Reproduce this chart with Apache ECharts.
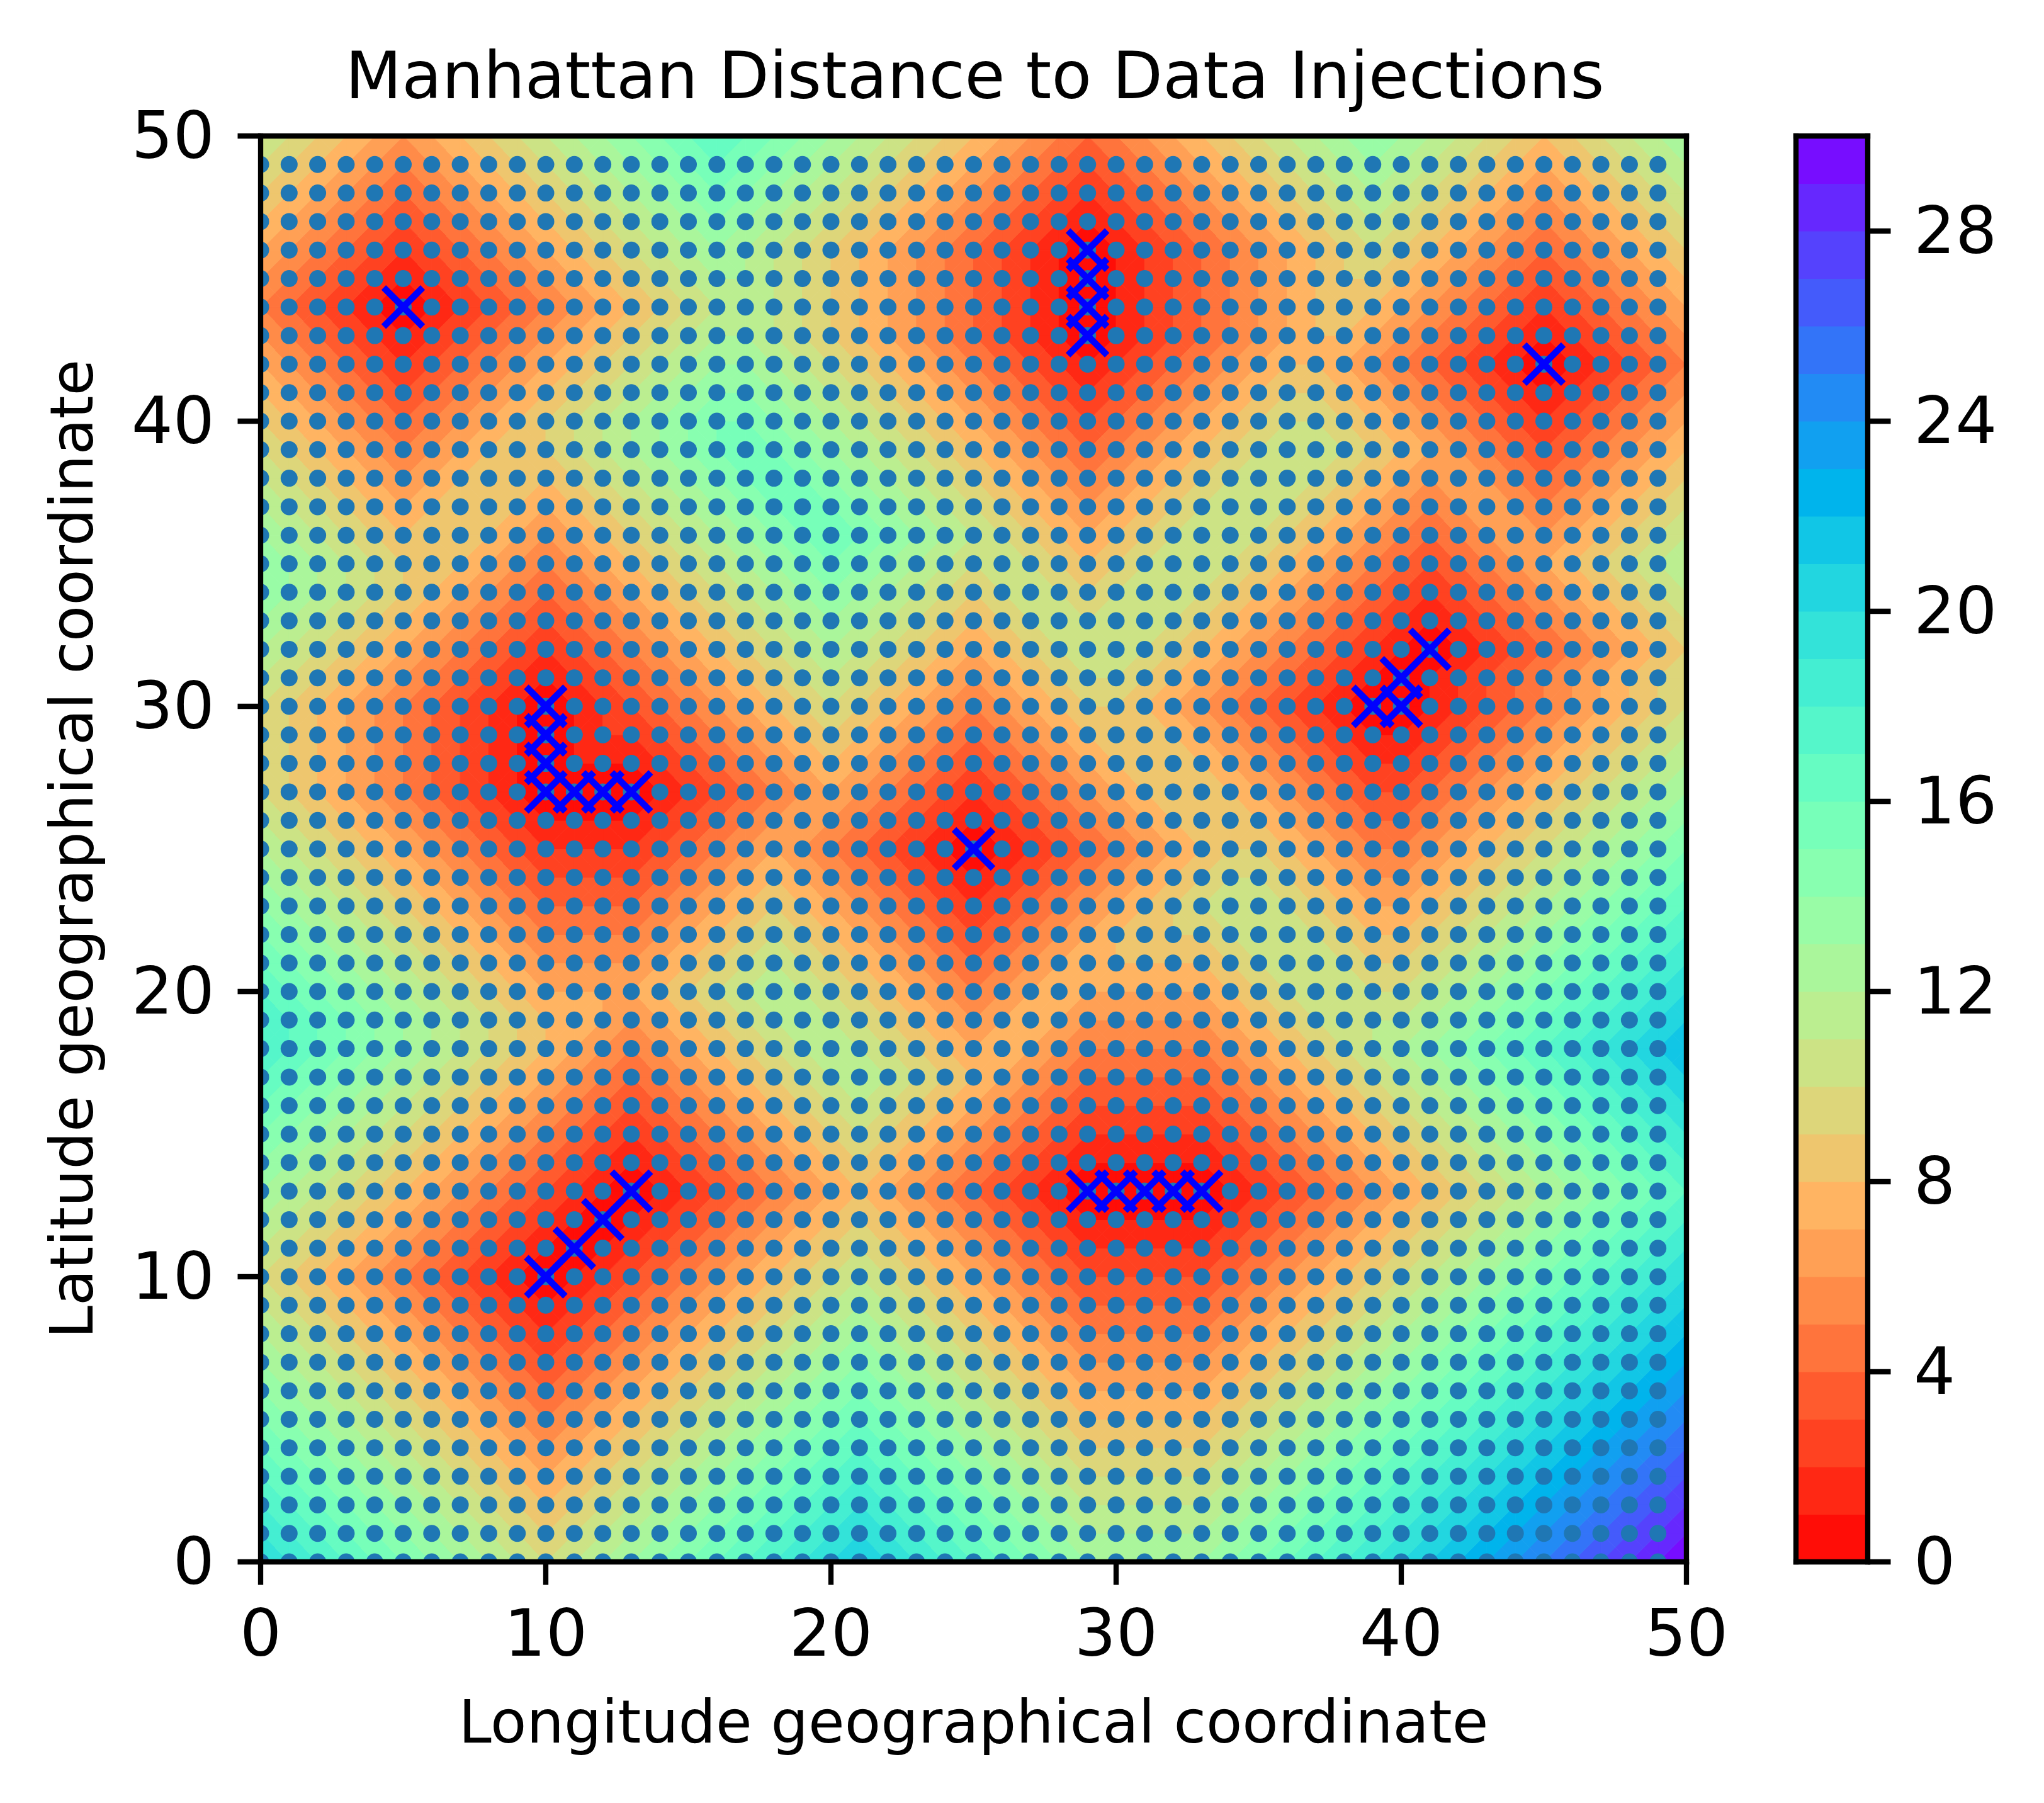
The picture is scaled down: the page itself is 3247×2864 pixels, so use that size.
<!DOCTYPE html>
<html>
<head>
<meta charset="utf-8">
<title>Manhattan Distance to Data Injections</title>
<script src="https://cdn.jsdelivr.net/npm/echarts@6/dist/echarts.min.js"></script>
<style>
  html, body { margin: 0; padding: 0; background: #fff; }
  #chart { width: 3247px; height: 2864px; }
</style>
</head>
<body>
<div id="chart"></div>
<script>
// 标题和轴标签
const chartTitle = 'Manhattan Distance to Data Injections';
const xAxisName = 'Longitude geographical coordinate';
const yAxisName = 'Latitude geographical coordinate';
const colorbarTicks = [0, 4, 8, 12, 16, 20, 24, 28];
const colorbarLevels = [0, 1, 2, 3, 4, 5, 6, 7, 8, 9, 10, 11, 12, 13, 14, 15, 16, 17, 18, 19, 20, 21, 22, 23, 24, 25, 26, 27, 28, 29];

// 蓝色小点的经纬度
const dotLons = [0, 1, 2, 3, 4, 5, 6, 7, 8, 9, 10, 11, 12, 13, 14, 15, 16, 17, 18, 19, 20, 21, 22, 23, 24, 25, 26, 27, 28, 29, 30, 31, 32, 33, 34, 35, 36, 37, 38, 39, 40, 41, 42, 43, 44, 45, 46, 47, 48, 49];
const dotLats = [0, 1, 2, 3, 4, 5, 6, 7, 8, 9, 10, 11, 12, 13, 14, 15, 16, 17, 18, 19, 20, 21, 22, 23, 24, 25, 26, 27, 28, 29, 30, 31, 32, 33, 34, 35, 36, 37, 38, 39, 40, 41, 42, 43, 44, 45, 46, 47, 48, 49];

// 数据注入点 (x标记)
const injections = [
  [5, 44], [29, 43], [29, 44], [29, 45], [29, 46], [45, 42],
  [10, 27], [10, 28], [10, 29], [10, 30], [11, 27], [12, 27], [13, 27],
  [25, 25], [39, 30], [40, 30], [40, 31], [41, 32],
  [10, 10], [11, 11], [12, 12], [13, 13],
  [29, 13], [30, 13], [31, 13], [32, 13], [33, 13]
];

// 等高线网格的值, 第一行是纬度0, 每行经度0到50
const distanceRows = [
  [20,19,18,17,16,15,14,13,12,11,10,11,12,13,14,15,16,17,18,19,20,21,20,19,18,17,16,15,14,13,13,13,13,13,14,15,16,17,18,19,20,21,22,23,24,25,26,27,28,29,30],
  [19,18,17,16,15,14,13,12,11,10,9,10,11,12,13,14,15,16,17,18,19,20,19,18,17,16,15,14,13,12,12,12,12,12,13,14,15,16,17,18,19,20,21,22,23,24,25,26,27,28,29],
  [18,17,16,15,14,13,12,11,10,9,8,9,10,11,12,13,14,15,16,17,18,19,18,17,16,15,14,13,12,11,11,11,11,11,12,13,14,15,16,17,18,19,20,21,22,23,24,25,26,27,28],
  [17,16,15,14,13,12,11,10,9,8,7,8,9,10,11,12,13,14,15,16,17,18,17,16,15,14,13,12,11,10,10,10,10,10,11,12,13,14,15,16,17,18,19,20,21,22,23,24,25,26,27],
  [16,15,14,13,12,11,10,9,8,7,6,7,8,9,10,11,12,13,14,15,16,17,16,15,14,13,12,11,10,9,9,9,9,9,10,11,12,13,14,15,16,17,18,19,20,21,22,23,24,25,26],
  [15,14,13,12,11,10,9,8,7,6,5,6,7,8,9,10,11,12,13,14,15,16,15,14,13,12,11,10,9,8,8,8,8,8,9,10,11,12,13,14,15,16,17,18,19,20,21,22,23,24,25],
  [14,13,12,11,10,9,8,7,6,5,4,5,6,7,8,9,10,11,12,13,14,15,14,13,12,11,10,9,8,7,7,7,7,7,8,9,10,11,12,13,14,15,16,17,18,19,20,21,22,23,24],
  [13,12,11,10,9,8,7,6,5,4,3,4,5,6,7,8,9,10,11,12,13,14,13,12,11,10,9,8,7,6,6,6,6,6,7,8,9,10,11,12,13,14,15,16,17,18,19,20,21,22,23],
  [12,11,10,9,8,7,6,5,4,3,2,3,4,5,6,7,8,9,10,11,12,13,12,11,10,9,8,7,6,5,5,5,5,5,6,7,8,9,10,11,12,13,14,15,16,17,18,19,20,21,22],
  [11,10,9,8,7,6,5,4,3,2,1,2,3,4,5,6,7,8,9,10,11,12,11,10,9,8,7,6,5,4,4,4,4,4,5,6,7,8,9,10,11,12,13,14,15,16,17,18,19,20,21],
  [10,9,8,7,6,5,4,3,2,1,0,1,2,3,4,5,6,7,8,9,10,11,10,9,8,7,6,5,4,3,3,3,3,3,4,5,6,7,8,9,10,11,12,13,14,15,16,17,18,19,20],
  [11,10,9,8,7,6,5,4,3,2,1,0,1,2,3,4,5,6,7,8,9,10,9,8,7,6,5,4,3,2,2,2,2,2,3,4,5,6,7,8,9,10,11,12,13,14,15,16,17,18,19],
  [12,11,10,9,8,7,6,5,4,3,2,1,0,1,2,3,4,5,6,7,8,9,8,7,6,5,4,3,2,1,1,1,1,1,2,3,4,5,6,7,8,9,10,11,12,13,14,15,16,17,18],
  [13,12,11,10,9,8,7,6,5,4,3,2,1,0,1,2,3,4,5,6,7,8,7,6,5,4,3,2,1,0,0,0,0,0,1,2,3,4,5,6,7,8,9,10,11,12,13,14,15,16,17],
  [14,13,12,11,10,9,8,7,6,5,4,3,2,1,2,3,4,5,6,7,8,9,8,7,6,5,4,3,2,1,1,1,1,1,2,3,4,5,6,7,8,9,10,11,12,13,14,15,16,17,18],
  [15,14,13,12,11,10,9,8,7,6,5,4,3,2,3,4,5,6,7,8,9,10,9,8,7,6,5,4,3,2,2,2,2,2,3,4,5,6,7,8,9,10,11,12,13,14,15,16,17,18,19],
  [16,15,14,13,12,11,10,9,8,7,6,5,4,3,4,5,6,7,8,9,10,11,10,9,8,7,6,5,4,3,3,3,3,3,4,5,6,7,8,9,10,11,12,13,14,15,16,17,18,19,20],
  [17,16,15,14,13,12,11,10,9,8,7,6,5,4,5,6,7,8,9,10,11,12,11,10,9,8,7,6,5,4,4,4,4,4,5,6,7,8,9,10,11,12,13,14,15,16,17,18,19,20,21],
  [18,17,16,15,14,13,12,11,10,9,8,7,6,5,6,7,8,9,10,11,12,11,10,9,8,7,8,7,6,5,5,5,5,5,6,7,8,9,10,11,12,13,14,15,16,17,18,19,20,21,22],
  [18,17,16,15,14,13,12,11,10,9,8,8,7,6,7,8,9,10,11,12,11,10,9,8,7,6,7,8,7,6,6,6,6,6,7,8,9,10,11,11,11,12,13,14,15,16,17,18,19,20,21],
  [17,16,15,14,13,12,11,10,9,8,7,7,7,7,8,9,10,11,12,11,10,9,8,7,6,5,6,7,8,7,7,7,7,7,8,9,10,11,11,10,10,11,12,13,14,15,16,17,18,19,20],
  [16,15,14,13,12,11,10,9,8,7,6,6,6,6,7,8,9,10,11,10,9,8,7,6,5,4,5,6,7,8,8,8,8,8,9,10,11,11,10,9,9,10,11,12,13,14,15,16,17,18,19],
  [15,14,13,12,11,10,9,8,7,6,5,5,5,5,6,7,8,9,10,9,8,7,6,5,4,3,4,5,6,7,8,9,9,9,10,11,11,10,9,8,8,9,10,11,12,13,14,15,16,17,18],
  [14,13,12,11,10,9,8,7,6,5,4,4,4,4,5,6,7,8,9,8,7,6,5,4,3,2,3,4,5,6,7,8,9,10,11,11,10,9,8,7,7,8,9,10,11,12,13,14,15,16,17],
  [13,12,11,10,9,8,7,6,5,4,3,3,3,3,4,5,6,7,8,7,6,5,4,3,2,1,2,3,4,5,6,7,8,9,10,10,9,8,7,6,6,7,8,9,10,11,12,13,14,15,16],
  [12,11,10,9,8,7,6,5,4,3,2,2,2,2,3,4,5,6,7,6,5,4,3,2,1,0,1,2,3,4,5,6,7,8,9,9,8,7,6,5,5,6,7,8,9,10,11,12,13,14,15],
  [11,10,9,8,7,6,5,4,3,2,1,1,1,1,2,3,4,5,6,7,6,5,4,3,2,1,2,3,4,5,6,7,8,9,9,8,7,6,5,4,4,5,6,7,8,9,10,11,12,13,14],
  [10,9,8,7,6,5,4,3,2,1,0,0,0,0,1,2,3,4,5,6,7,6,5,4,3,2,3,4,5,6,7,8,9,9,8,7,6,5,4,3,3,4,5,6,7,8,9,10,11,12,13],
  [10,9,8,7,6,5,4,3,2,1,0,1,1,1,2,3,4,5,6,7,8,7,6,5,4,3,4,5,6,7,8,9,9,8,7,6,5,4,3,2,2,3,4,5,6,7,8,9,10,11,12],
  [10,9,8,7,6,5,4,3,2,1,0,1,2,2,3,4,5,6,7,8,9,8,7,6,5,4,5,6,7,8,9,9,8,7,6,5,4,3,2,1,1,2,3,4,5,6,7,8,9,10,11],
  [10,9,8,7,6,5,4,3,2,1,0,1,2,3,4,5,6,7,8,9,10,9,8,7,6,5,6,7,8,9,9,8,7,6,5,4,3,2,1,0,0,1,2,3,4,5,6,7,8,9,10],
  [11,10,9,8,7,6,5,4,3,2,1,2,3,4,5,6,7,8,9,10,11,10,9,8,7,6,7,8,9,10,10,9,8,7,6,5,4,3,2,1,0,1,2,3,4,5,6,7,8,9,10],
  [12,11,10,9,8,7,6,5,4,3,2,3,4,5,6,7,8,9,10,11,12,11,10,9,8,7,8,9,10,11,11,10,9,8,7,6,5,4,3,2,1,0,1,2,3,4,5,6,7,8,9],
  [13,12,11,10,9,8,7,6,5,4,3,4,5,6,7,8,9,10,11,12,13,12,11,10,9,8,9,10,11,10,11,11,10,9,8,7,6,5,4,3,2,1,2,3,4,5,6,7,8,9,10],
  [14,13,12,11,10,9,8,7,6,5,4,5,6,7,8,9,10,11,12,13,14,13,12,11,10,9,10,11,10,9,10,11,11,10,9,8,7,6,5,4,3,2,3,4,5,6,7,8,9,10,11],
  [14,13,12,11,10,9,9,8,7,6,5,6,7,8,9,10,11,12,13,14,15,14,13,12,11,10,11,10,9,8,9,10,11,11,10,9,8,7,6,5,4,3,4,5,6,7,8,9,10,11,12],
  [13,12,11,10,9,8,9,9,8,7,6,7,8,9,10,11,12,13,14,15,16,15,14,13,12,11,10,9,8,7,8,9,10,11,11,10,9,8,7,6,5,4,5,6,7,6,7,8,9,10,11],
  [12,11,10,9,8,7,8,9,9,8,7,8,9,10,11,12,13,14,15,16,15,14,13,12,11,10,9,8,7,6,7,8,9,10,11,11,10,9,8,7,6,5,6,7,6,5,6,7,8,9,10],
  [11,10,9,8,7,6,7,8,9,9,8,9,10,11,12,13,14,15,16,15,14,13,12,11,10,9,8,7,6,5,6,7,8,9,10,11,11,10,9,8,7,6,7,6,5,4,5,6,7,8,9],
  [10,9,8,7,6,5,6,7,8,9,9,10,11,12,13,14,15,16,15,14,13,12,11,10,9,8,7,6,5,4,5,6,7,8,9,10,11,11,10,9,8,7,6,5,4,3,4,5,6,7,8],
  [9,8,7,6,5,4,5,6,7,8,9,10,11,12,13,14,15,15,14,13,12,11,10,9,8,7,6,5,4,3,4,5,6,7,8,9,10,10,9,8,7,6,5,4,3,2,3,4,5,6,7],
  [8,7,6,5,4,3,4,5,6,7,8,9,10,11,12,13,14,14,13,12,11,10,9,8,7,6,5,4,3,2,3,4,5,6,7,8,9,9,8,7,6,5,4,3,2,1,2,3,4,5,6],
  [7,6,5,4,3,2,3,4,5,6,7,8,9,10,11,12,13,13,12,11,10,9,8,7,6,5,4,3,2,1,2,3,4,5,6,7,8,8,7,6,5,4,3,2,1,0,1,2,3,4,5],
  [6,5,4,3,2,1,2,3,4,5,6,7,8,9,10,11,12,12,11,10,9,8,7,6,5,4,3,2,1,0,1,2,3,4,5,6,7,8,8,7,6,5,4,3,2,1,2,3,4,5,6],
  [5,4,3,2,1,0,1,2,3,4,5,6,7,8,9,10,11,12,11,10,9,8,7,6,5,4,3,2,1,0,1,2,3,4,5,6,7,8,9,8,7,6,5,4,3,2,3,4,5,6,7],
  [6,5,4,3,2,1,2,3,4,5,6,7,8,9,10,11,12,12,11,10,9,8,7,6,5,4,3,2,1,0,1,2,3,4,5,6,7,8,9,9,8,7,6,5,4,3,4,5,6,7,8],
  [7,6,5,4,3,2,3,4,5,6,7,8,9,10,11,12,13,12,11,10,9,8,7,6,5,4,3,2,1,0,1,2,3,4,5,6,7,8,9,10,9,8,7,6,5,4,5,6,7,8,9],
  [8,7,6,5,4,3,4,5,6,7,8,9,10,11,12,13,14,13,12,11,10,9,8,7,6,5,4,3,2,1,2,3,4,5,6,7,8,9,10,11,10,9,8,7,6,5,6,7,8,9,10],
  [9,8,7,6,5,4,5,6,7,8,9,10,11,12,13,14,15,14,13,12,11,10,9,8,7,6,5,4,3,2,3,4,5,6,7,8,9,10,11,12,11,10,9,8,7,6,7,8,9,10,11],
  [10,9,8,7,6,5,6,7,8,9,10,11,12,13,14,15,16,15,14,13,12,11,10,9,8,7,6,5,4,3,4,5,6,7,8,9,10,11,12,13,12,11,10,9,8,7,8,9,10,11,12],
  [11,10,9,8,7,6,7,8,9,10,11,12,13,14,15,16,17,16,15,14,13,12,11,10,9,8,7,6,5,4,5,6,7,8,9,10,11,12,13,14,13,12,11,10,9,8,9,10,11,12,13]
];

const fontFamily = 'DejaVu Sans';
const plotLeft = 414, plotTop = 216, plotSize = 2265;
const barLeft = 2853, barWidth = 114;
const spineWidth = 8.33;

// rainbow_r 色带, 30 段取中点
function rainbowR(t) {
  const x = 1 - t;
  const r = Math.min(1, Math.abs(2 * x - 0.5));
  const g = Math.sin(Math.PI * x);
  const b = Math.cos(Math.PI * x / 2);
  return 'rgb(' + [r, g, b].map(c => Math.round(c * 255)).join(',') + ')';
}
const bandColors = colorbarLevels.map(k => rainbowR((k + 0.5) / colorbarLevels.length));

// 多边形按等值线裁剪 (点为 [x, y, v])
function clipPoly(poly, level, above) {
  const out = [];
  for (let i = 0; i < poly.length; i++) {
    const a = poly[i], b = poly[(i + 1) % poly.length];
    const inA = above ? a[2] >= level : a[2] <= level;
    const inB = above ? b[2] >= level : b[2] <= level;
    if (inA) out.push(a);
    if (inA !== inB) {
      const t = (level - a[2]) / (b[2] - a[2]);
      out.push([a[0] + (b[0] - a[0]) * t, a[1] + (b[1] - a[1]) * t, level]);
    }
  }
  return out;
}

// 每个网格单元分成四个三角形, 再切成色带
function renderCell(params, api) {
  const x = api.value(0), y = api.value(1);
  const v00 = distanceRows[y][x], v10 = distanceRows[y][x + 1];
  const v11 = distanceRows[y + 1][x + 1], v01 = distanceRows[y + 1][x];
  const corners = [[x, y, v00], [x + 1, y, v10], [x + 1, y + 1, v11], [x, y + 1, v01]];
  const mid = [x + 0.5, y + 0.5, (v00 + v10 + v11 + v01) / 4];
  const children = [];
  for (let i = 0; i < 4; i++) {
    const tri = [corners[i], corners[(i + 1) % 4], mid];
    const vs = tri.map(p => p[2]);
    const lo = Math.floor(Math.min(...vs));
    const hi = Math.max(lo + 1, Math.ceil(Math.max(...vs)));
    for (let k = lo; k < hi; k++) {
      const poly = clipPoly(clipPoly(tri, k, true), k + 1, false);
      if (poly.length < 3) continue;
      const color = bandColors[Math.min(k, bandColors.length - 1)];
      children.push({
        type: 'polygon',
        shape: { points: poly.map(p => api.coord([p[0], p[1]])) },
        style: { fill: color, stroke: color, lineWidth: 1 },
        silent: true
      });
    }
  }
  return { type: 'group', children: children };
}

// 小圆点, 用 custom 才能被坐标系裁掉一半
function renderDot(params, api) {
  const c = api.coord([api.value(0), api.value(1)]);
  return {
    type: 'circle',
    shape: { cx: c[0], cy: c[1], r: 13.5 },
    style: { fill: '#1f77b4' }
  };
}

// x 标记
function renderCross(params, api) {
  const c = api.coord([api.value(0), api.value(1)]);
  const r = 31;
  const style = { stroke: '#0000ff', lineWidth: 10.4, fill: null };
  return {
    type: 'group',
    children: [
      { type: 'line', shape: { x1: c[0] - r, y1: c[1] - r, x2: c[0] + r, y2: c[1] + r }, style: style },
      { type: 'line', shape: { x1: c[0] - r, y1: c[1] + r, x2: c[0] + r, y2: c[1] - r }, style: style }
    ]
  };
}

// 色条
function renderBand(params, api) {
  const k = api.value(0);
  const a = api.coord([0, k + 1]);
  const b = api.coord([1, k]);
  return {
    type: 'rect',
    shape: { x: a[0], y: a[1], width: b[0] - a[0], height: b[1] - a[1] },
    style: { fill: bandColors[k], stroke: bandColors[k], lineWidth: 1 }
  };
}

const cells = [];
for (let y = 0; y < distanceRows.length - 1; y++) {
  for (let x = 0; x < distanceRows[y].length - 1; x++) cells.push([x, y]);
}
const dots = [];
dotLats.forEach(lat => dotLons.forEach(lon => dots.push([lon, lat])));

const lineStyle = { color: '#000', width: spineWidth, cap: 'square' };
const labelStyle = { color: '#000', fontFamily: fontFamily, fontSize: 104 };
const nameStyle = { color: '#000', fontFamily: fontFamily, fontSize: 93.75 };

const option = {
  animation: false,
  backgroundColor: '#fff',
  title: {
    text: chartTitle,
    left: plotLeft + plotSize / 2 - 3,
    top: 72,
    textAlign: 'center',
    textStyle: { color: '#000', fontFamily: fontFamily, fontSize: 104, fontWeight: 'normal' }
  },
  grid: [
    { left: plotLeft, top: plotTop, width: plotSize, height: plotSize },
    { left: barLeft, top: plotTop, width: barWidth, height: plotSize }
  ],
  xAxis: [
    {
      type: 'value', gridIndex: 0, position: 'bottom', min: 0, max: 50, interval: 10, z: 10,
      name: xAxisName, nameLocation: 'middle', nameGap: 216, nameTextStyle: nameStyle,
      splitLine: { show: false },
      axisLine: { show: true, onZero: false, lineStyle: lineStyle },
      axisTick: { show: true, length: 36.5, lineStyle: { color: '#000', width: spineWidth } },
      axisLabel: { show: true, margin: 70, ...labelStyle }
    },
    {
      type: 'value', gridIndex: 0, position: 'top', min: 0, max: 50, interval: 10, z: 10,
      splitLine: { show: false },
      axisLine: { show: true, onZero: false, lineStyle: lineStyle },
      axisTick: { show: false }, axisLabel: { show: false }
    },
    {
      type: 'value', gridIndex: 1, position: 'bottom', min: 0, max: 1, z: 10,
      splitLine: { show: false },
      axisLine: { show: true, onZero: false, lineStyle: lineStyle },
      axisTick: { show: false }, axisLabel: { show: false }
    },
    {
      type: 'value', gridIndex: 1, position: 'top', min: 0, max: 1, z: 10,
      splitLine: { show: false },
      axisLine: { show: true, onZero: false, lineStyle: lineStyle },
      axisTick: { show: false }, axisLabel: { show: false }
    }
  ],
  yAxis: [
    {
      type: 'value', gridIndex: 0, position: 'left', min: 0, max: 50, interval: 10, z: 10,
      name: yAxisName, nameLocation: 'middle', nameGap: 244, nameTextStyle: nameStyle,
      splitLine: { show: false },
      axisLine: { show: true, onZero: false, lineStyle: lineStyle },
      axisTick: { show: true, length: 36.5, lineStyle: { color: '#000', width: spineWidth } },
      // 顶端对齐加小行高, 让数字比刻度略低一点
      axisLabel: { show: true, margin: 73, verticalAlign: 'top', lineHeight: 16, ...labelStyle }
    },
    {
      type: 'value', gridIndex: 0, position: 'right', min: 0, max: 50, interval: 10, z: 10,
      splitLine: { show: false },
      axisLine: { show: true, onZero: false, lineStyle: lineStyle },
      axisTick: { show: false }, axisLabel: { show: false }
    },
    {
      type: 'value', gridIndex: 1, position: 'left', min: 0, max: 30, z: 10,
      splitLine: { show: false },
      axisLine: { show: true, onZero: false, lineStyle: lineStyle },
      axisTick: { show: false }, axisLabel: { show: false }
    },
    {
      type: 'value', gridIndex: 1, position: 'right', min: 0, max: 30, z: 10,
      splitLine: { show: false },
      axisLine: { show: true, onZero: false, lineStyle: lineStyle },
      axisTick: { show: true, length: 36.5, customValues: colorbarTicks, lineStyle: { color: '#000', width: spineWidth } },
      axisLabel: { show: true, margin: 73, verticalAlign: 'top', lineHeight: 16, customValues: colorbarTicks, ...labelStyle }
    }
  ],
  series: [
    {
      type: 'custom', name: 'contour', xAxisIndex: 0, yAxisIndex: 0, z: 1, silent: true,
      data: cells, encode: { x: 0, y: 1 }, renderItem: renderCell
    },
    {
      type: 'custom', name: 'grid', xAxisIndex: 0, yAxisIndex: 0, z: 2, silent: true, clip: true,
      data: dots, encode: { x: 0, y: 1 }, renderItem: renderDot
    },
    {
      type: 'custom', name: 'injections', xAxisIndex: 0, yAxisIndex: 0, z: 3, silent: true,
      data: injections, encode: { x: 0, y: 1 }, renderItem: renderCross
    },
    {
      type: 'custom', name: 'colorbar', xAxisIndex: 2, yAxisIndex: 2, z: 1, silent: true,
      data: colorbarLevels.map(k => [k]), encode: { y: 0 }, renderItem: renderBand
    }
  ]
};

const chart = echarts.init(document.getElementById('chart'), null, { renderer: 'canvas' });
chart.setOption(option);
</script>
</body>
</html>
